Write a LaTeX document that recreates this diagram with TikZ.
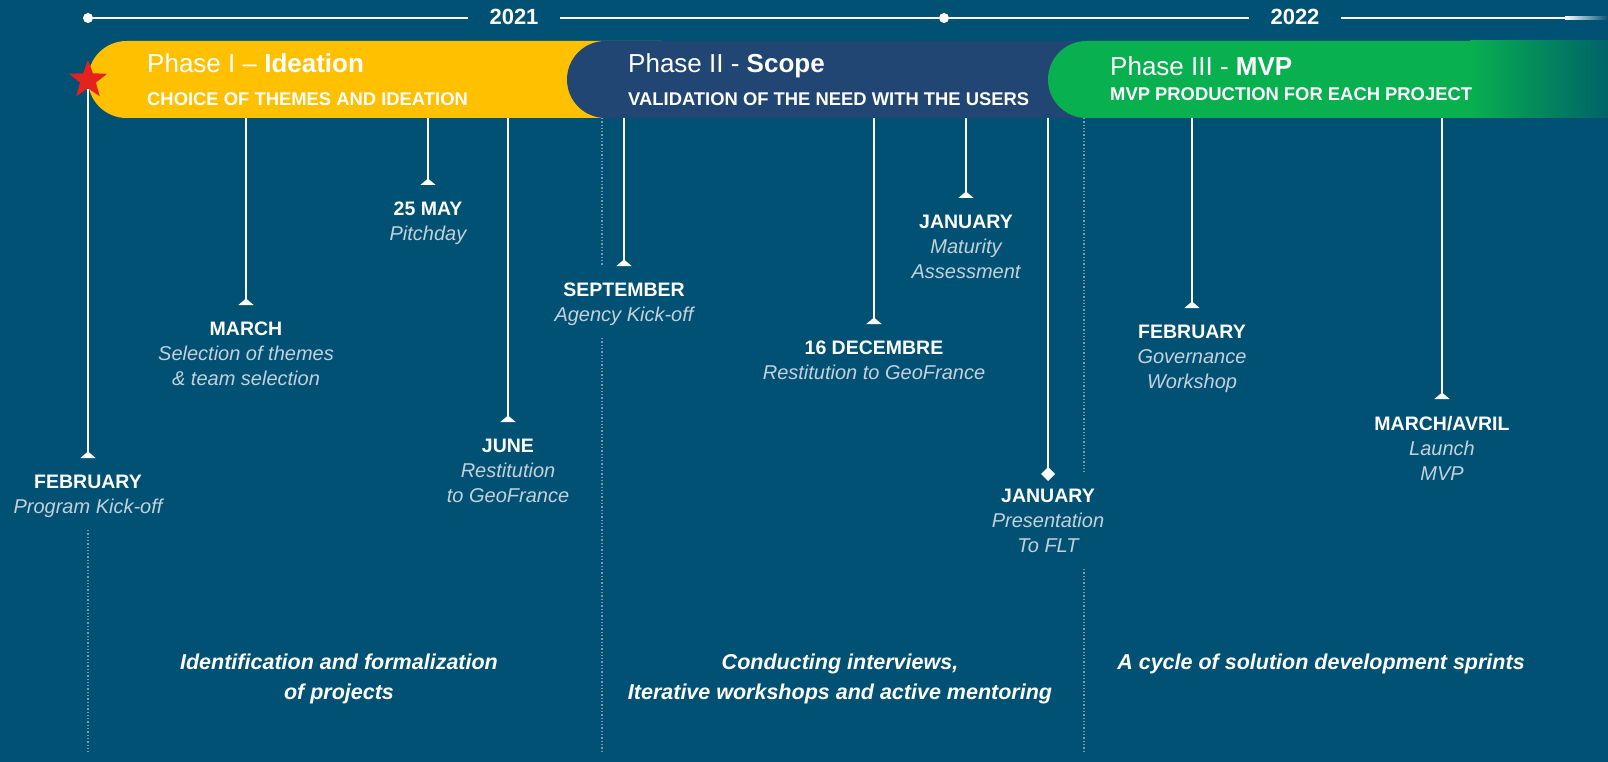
\documentclass[tikz,border=0pt]{standalone}
\usepackage{fontspec}
\setmainfont{Liberation Sans}
\usetikzlibrary{arrows.meta}
\usetikzlibrary{shapes.geometric}
\usetikzlibrary{positioning}
\definecolor{bgblue}{RGB}{0,81,115}
\definecolor{phaseyellow}{RGB}{255,192,0}
\definecolor{phasenavy}{RGB}{33,70,115}
\definecolor{phasegreen}{RGB}{8,176,80}
\definecolor{fadeteal}{RGB}{0,98,105}
\definecolor{desctext}{RGB}{196,209,219}
\definecolor{sepdots}{RGB}{120,155,178}
\definecolor{starred}{RGB}{228,34,30}
\newcommand{\mdesc}[1]{{\fontsize{20}{25}\selectfont\mdseries\itshape\color{desctext}#1}}
\tikzset{stem/.style={white, line width=2pt, -{Triangle[reversed, width=15pt, length=6.5pt]}, shorten >=17pt}}
\tikzset{mile/.style={text=white, align=center, inner sep=0pt, anchor=north, font=\fontsize{19.5}{25}\selectfont\bfseries}}
\tikzset{phasetitle/.style={text=white, anchor=base west, inner sep=0pt, font=\fontsize{26}{30}\selectfont}}
\tikzset{phasesub/.style={text=white, anchor=base west, inner sep=0pt, font=\fontsize{18.4}{22}\selectfont\bfseries}}
\tikzset{yeardot/.style={circle, fill=white, inner sep=0pt, minimum size=10pt}}
\tikzset{year/.style={text=white, inner ysep=0pt, inner xsep=21pt, font=\fontsize{22}{26}\selectfont\bfseries}}
\tikzset{topline/.style={white, line width=2.5pt}}
\tikzset{sepline/.style={sepdots, line width=1.3pt, dash pattern=on 1.3pt off 2pt}}
\tikzset{summary/.style={text=white, align=center, inner sep=0pt, font=\fontsize{21.5}{30}\selectfont\bfseries\itshape}}

\begin{document}
\begin{tikzpicture}[x=1pt, y=-1pt]
\useasboundingbox (0,0) rectangle (1608,762);
\fill[bgblue] (0,0) rectangle (1608,762);

% years
\node[yeardot] (dotstart) at (88,18) {};
\node[yeardot] (dotmid) at (944,18) {};
\node[year] (y2021) at (514,17) {2021};
\node[year] (y2022) at (1295,17) {2022};
\coordinate (lineend) at (1565,18);
\draw[topline] (dotstart) -- (dotstart -| y2021.west);
\draw[topline] (dotmid -| y2021.east) -- (dotmid) -- (dotmid -| y2022.west);
\draw[topline] (dotmid -| y2022.east) -- (lineend);
\shade[left color=white, right color=bgblue] (1565,16.75) rectangle (1608,19.25);

% separators
\draw[sepline] (88,530) -- (88,752);
\draw[sepline] (602,118) -- (602,266);
\draw[sepline] (602,338) -- (602,752);
\draw[sepline] (1084,118) -- (1084,472);
\draw[sepline] (1084,569) -- (1084,752);

% phases
\fill[phaseyellow, rounded corners=38.5pt] (88,41) rectangle (700,118);
\fill[phasenavy, rounded corners=38.5pt] (567,41) rectangle (1150,118);
\fill[phasegreen, rounded corners=38.5pt] (1048,41) rectangle (1700,118);
\shade[left color=phasegreen, right color=fadeteal] (1470,41) rectangle (1608,118);

\node[phasetitle] (ideation) at (147,73) {Phase I – \textbf{Ideation}};
\node[phasesub] (ideationsub) at (147,106) {CHOICE OF THEMES AND IDEATION};
\node[phasetitle] (scope) at (628,73) {Phase II - \textbf{Scope}};
\node[phasesub] (scopesub) at (628,106) {VALIDATION OF THE NEED WITH THE USERS};
\node[phasetitle] (mvp) at (1110,76) {Phase III - \textbf{MVP}};
\node[phasesub] (mvpsub) at (1110,101) {MVP PRODUCTION FOR EACH PROJECT};

% milestones
\node[star, star points=5, star point ratio=2.4, fill=starred, inner sep=0pt, minimum size=40pt] (kickstar) at (88,80) {};
\node[mile] (febkick) at (88,475) {FEBRUARY\\\mdesc{Program Kick-off}};
\node[mile] (march) at (246,322) {MARCH\\\mdesc{Selection of themes}\\\mdesc{\& team selection}};
\node[mile] (pitch) at (428,202) {25 MAY\\\mdesc{Pitchday}};
\node[mile] (june) at (508,439) {JUNE\\\mdesc{Restitution}\\\mdesc{to GeoFrance}};
\node[mile] (sept) at (624,283) {SEPTEMBER\\\mdesc{Agency Kick-off}};
\node[mile] (dec) at (874,341) {16 DECEMBRE\\\mdesc{Restitution to GeoFrance}};
\node[mile] (janmat) at (966,215) {JANUARY\\\mdesc{Maturity}\\\mdesc{Assessment}};
\node[mile] (janflt) at (1048,489) {JANUARY\\\mdesc{Presentation}\\\mdesc{To FLT}};
\node[mile] (govern) at (1192,325) {FEBRUARY\\\mdesc{Governance}\\\mdesc{Workshop}};
\node[mile] (launch) at (1442,416) {MARCH/AVRIL\\\mdesc{Launch}\\\mdesc{MVP}};

\coordinate (marchtop) at (246,118);
\coordinate (pitchtop) at (428,118);
\coordinate (junetop) at (508,118);
\coordinate (septtop) at (624,118);
\coordinate (dectop) at (874,118);
\coordinate (janmattop) at (966,118);
\coordinate (jandflttop) at (1048,118);
\coordinate (governtop) at (1192,118);
\coordinate (launchtop) at (1442,118);

\draw[stem] (kickstar) -- (febkick.north);
\draw[stem] (marchtop) -- (march.north);
\draw[stem] (pitchtop) -- (pitch.north);
\draw[stem] (junetop) -- (june.north);
\draw[stem] (septtop) -- (sept.north);
\draw[stem] (dectop) -- (dec.north);
\draw[stem] (janmattop) -- (janmat.north);
\draw[stem, -{Turned Square[width=14pt, length=14pt]}, shorten >=8pt] (jandflttop) -- (janflt.north);
\draw[stem] (governtop) -- (govern.north);
\draw[stem] (launchtop) -- (launch.north);

% summaries
\node[summary] (sumideation) at (339,679) {Identification and formalization\\of projects};
\node[summary] (sumscope) at (840,679) {Conducting interviews,\\Iterative  workshops and active mentoring};
\node[summary] (summvp) at (1321,664) {A cycle of solution development sprints};
\end{tikzpicture}
\end{document}
